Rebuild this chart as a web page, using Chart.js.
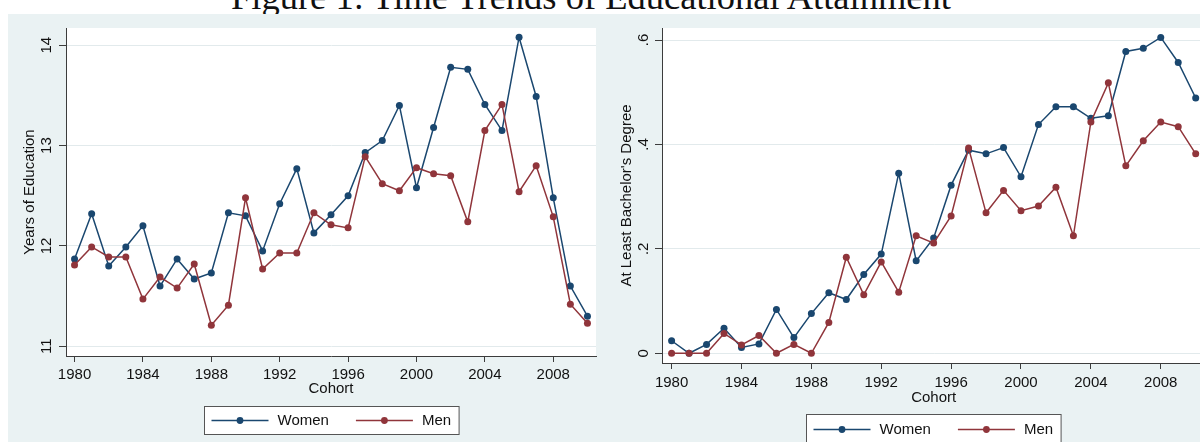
<!DOCTYPE html>
<html>
<head>
<meta charset="utf-8">
<script src="https://cdn.jsdelivr.net/npm/chart.js@4.4.1/dist/chart.umd.min.js"></script>
<style>
  html, body { margin: 0; padding: 0; }
  body { width: 1200px; height: 442px; overflow: hidden; position: relative; background: #ffffff; }
  #figTitle {
    position: absolute; left: 231px; top: -21.5px; white-space: nowrap;
    font-family: "Liberation Serif", "DejaVu Serif", serif; font-size: 36.5px; line-height: 36.5px; color: #111;
  }
  #region { position: absolute; left: 8px; top: 14px; width: 1192px; height: 428px; background: #eaf2f3; }
  .panel { position: absolute; top: 14px; height: 428px; overflow: hidden; }
  #leftPanel { left: 8px; width: 592px; }
  #rightPanel { left: 600px; width: 600px; }
</style>
</head>
<body>
<div id="figTitle">Figure 1: Time Trends of Educational Attainment</div>
<div id="region"></div>
<div class="panel" id="leftPanel"><canvas id="eduChart" width="592" height="428"></canvas></div>
<div class="panel" id="rightPanel"><canvas id="baChart" width="620" height="428"></canvas></div>
<script>
// Birth cohorts on the horizontal axis
const cohorts = [1980, 1981, 1982, 1983, 1984, 1985, 1986, 1987, 1988, 1989,
                 1990, 1991, 1992, 1993, 1994, 1995, 1996, 1997, 1998, 1999,
                 2000, 2001, 2002, 2003, 2004, 2005, 2006, 2007, 2008, 2009, 2010];
const cohortTicks = [1980, 1984, 1988, 1992, 1996, 2000, 2004, 2008];

// Mean years of education by cohort
const womenYears = [11.87, 12.32, 11.80, 11.99, 12.20, 11.60, 11.87, 11.67, 11.73, 12.33,
                    12.30, 11.95, 12.42, 12.77, 12.13, 12.31, 12.50, 12.93, 13.05, 13.40,
                    12.58, 13.18, 13.78, 13.76, 13.41, 13.15, 14.08, 13.49, 12.48, 11.60, 11.30];
const menYears   = [11.81, 11.99, 11.89, 11.89, 11.47, 11.69, 11.58, 11.82, 11.21, 11.41,
                    12.48, 11.77, 11.93, 11.93, 12.33, 12.21, 12.18, 12.89, 12.62, 12.55,
                    12.78, 12.72, 12.70, 12.24, 13.15, 13.41, 12.54, 12.80, 12.29, 11.42, 11.23];
const yearsTicks = [11, 12, 13, 14];

// Share with at least a bachelor's degree by cohort
const womenBA = [0.024, 0.000, 0.017, 0.048, 0.011, 0.018, 0.084, 0.030, 0.076, 0.116,
                 0.103, 0.151, 0.190, 0.345, 0.177, 0.221, 0.322, 0.389, 0.382, 0.394,
                 0.338, 0.438, 0.472, 0.472, 0.450, 0.455, 0.578, 0.584, 0.605, 0.557, 0.489];
const menBA   = [0.000, 0.000, 0.000, 0.038, 0.016, 0.034, 0.000, 0.017, 0.000, 0.059,
                 0.184, 0.112, 0.175, 0.117, 0.225, 0.211, 0.263, 0.393, 0.269, 0.312,
                 0.273, 0.282, 0.318, 0.225, 0.443, 0.518, 0.359, 0.407, 0.443, 0.434, 0.382];
const baTicks = [0, 0.2, 0.4, 0.6];
const baTickLabels = ['0', '.2', '.4', '.6'];

const seriesNames = ['Women', 'Men'];

const NAVY = '#1a476f';
const MAROON = '#90353b';
const AXIS = '#3c3c3c';
const GRID = '#e2eaec';
const INK = '#111111';
const SANS = '"Liberation Sans", Arial, sans-serif';
const font15 = { family: SANS, size: 15 };

// White plot region on the tinted graph region
const plotFill = {
  id: 'plotFill',
  beforeDraw(chart) {
    const { ctx, chartArea: a } = chart;
    ctx.save();
    ctx.fillStyle = '#ffffff';
    ctx.fillRect(a.left, a.top, a.right - a.left, a.bottom - a.top);
    ctx.restore();
  }
};

// Boxed legend with a line-and-dot key for every series, centred under the plot
const boxedLegend = {
  id: 'boxedLegend',
  afterDraw(chart, args, opts) {
    const { ctx, chartArea: a } = chart;
    const sets = chart.data.datasets;
    const pad = 7, keyLen = 57, keyGap = 9, itemGap = 27, padR = 8;
    ctx.save();
    ctx.font = `15px ${SANS}`;
    const widths = sets.map(d => ctx.measureText(d.label).width);
    let total = pad + padR;
    widths.forEach((w, i) => { total += keyLen + keyGap + w + (i < widths.length - 1 ? itemGap : 0); });
    const cx = (a.left + a.right) / 2;
    const x0 = Math.round(cx - total / 2) + 0.5;
    const y0 = Math.round(a.bottom + opts.offset) + 0.5;
    ctx.fillStyle = '#ffffff';
    ctx.fillRect(x0, y0, total, opts.height);
    ctx.strokeStyle = '#555555';
    ctx.lineWidth = 1;
    ctx.strokeRect(x0, y0, total, opts.height);
    const my = y0 + opts.height / 2;
    let x = x0 + pad;
    sets.forEach((d, i) => {
      ctx.strokeStyle = d.borderColor;
      ctx.lineWidth = 1.4;
      ctx.beginPath();
      ctx.moveTo(x, my);
      ctx.lineTo(x + keyLen, my);
      ctx.stroke();
      ctx.fillStyle = d.borderColor;
      ctx.beginPath();
      ctx.arc(x + keyLen / 2, my, 3.4, 0, Math.PI * 2);
      ctx.fill();
      ctx.fillStyle = INK;
      ctx.textBaseline = 'middle';
      ctx.textAlign = 'left';
      ctx.fillText(d.label, x + keyLen + keyGap, my + 0.5);
      x += keyLen + keyGap + widths[i] + itemGap;
    });
    ctx.restore();
  }
};

function series(label, values, color, order) {
  return {
    label,
    data: cohorts.map((c, i) => ({ x: c, y: values[i] })),
    borderColor: color,
    backgroundColor: color,
    borderWidth: 1.5,
    pointRadius: 3.5,
    pointBorderWidth: 0,
    pointBackgroundColor: color,
    tension: 0,
    order
  };
}

function makeChart(canvasId, cfg) {
  return new Chart(document.getElementById(canvasId), {
    type: 'line',
    data: {
      datasets: [
        series(seriesNames[0], cfg.women, NAVY, 1),
        series(seriesNames[1], cfg.men, MAROON, 0)
      ]
    },
    plugins: [plotFill, boxedLegend],
    options: {
      responsive: false,
      animation: false,
      devicePixelRatio: 1,
      layout: { padding: cfg.padding },
      plugins: {
        legend: { display: false },
        tooltip: { enabled: false },
        boxedLegend: { offset: cfg.legendOffset, height: cfg.legendHeight }
      },
      scales: {
        x: {
          type: 'linear',
          bounds: 'data',
          min: cfg.xMin,
          max: cfg.xMax,
          afterBuildTicks: s => { s.ticks = cohortTicks.map(v => ({ value: v })); },
          afterFit: s => { s.height = 50; },
          grid: { drawOnChartArea: false, drawTicks: true, tickLength: 6, tickColor: AXIS, tickWidth: 1 },
          border: { display: true, color: AXIS, width: 1 },
          ticks: { padding: cfg.xTickPad, font: font15, color: INK, maxRotation: 0, autoSkip: false,
                   callback: v => String(v) },
          title: { display: true, text: 'Cohort', font: font15, color: INK,
                   padding: { top: 0, bottom: cfg.xTitlePad } }
        },
        y: {
          type: 'linear',
          bounds: 'data',
          min: cfg.yMin,
          max: cfg.yMax,
          afterBuildTicks: s => { s.ticks = cfg.yTicks.map(v => ({ value: v })); },
          afterFit: s => { s.width = cfg.yWidth; },
          grid: { color: GRID, lineWidth: 1, drawTicks: true, tickLength: 7, tickColor: AXIS, tickWidth: 1 },
          border: { display: true, color: AXIS, width: 1 },
          ticks: { minRotation: 90, maxRotation: 90, crossAlign: 'center', padding: cfg.yTickPad,
                   font: font15, color: INK, autoSkip: false, callback: cfg.yLabel },
          title: { display: true, text: cfg.yTitle, font: font15, color: INK,
                   padding: { top: cfg.yTitlePad, bottom: 0 } }
        }
      }
    }
  });
}

makeChart('eduChart', {
  women: womenYears, men: menYears,
  xMin: 1979.5, xMax: 2010.5,
  yMin: 10.903, yMax: 14.172, yTicks: yearsTicks,
  yLabel: v => String(v),
  yTitle: 'Years of Education',
  padding: { left: 0, right: 2, top: 14, bottom: 36 },
  yWidth: 58, yTickPad: 4, yTitlePad: 13,
  xTickPad: 4, xTitlePad: 8,
  legendOffset: 50, legendHeight: 28
});

makeChart('baChart', {
  women: womenBA, men: menBA,
  xMin: 1979.45, xMax: 2010.55,
  yMin: -0.0186, yMax: 0.623, yTicks: baTicks,
  yLabel: v => baTickLabels[baTicks.findIndex(t => Math.abs(t - v) < 1e-9)] ?? String(v),
  yTitle: "At Least Bachelor's Degree",
  padding: { left: 0, right: 14.7, top: 14, bottom: 29 },
  yWidth: 62, yTickPad: 5, yTitlePad: 17.7,
  xTickPad: 4.5, xTitlePad: 6.5,
  legendOffset: 51, legendHeight: 30
});
</script>
</body>
</html>
